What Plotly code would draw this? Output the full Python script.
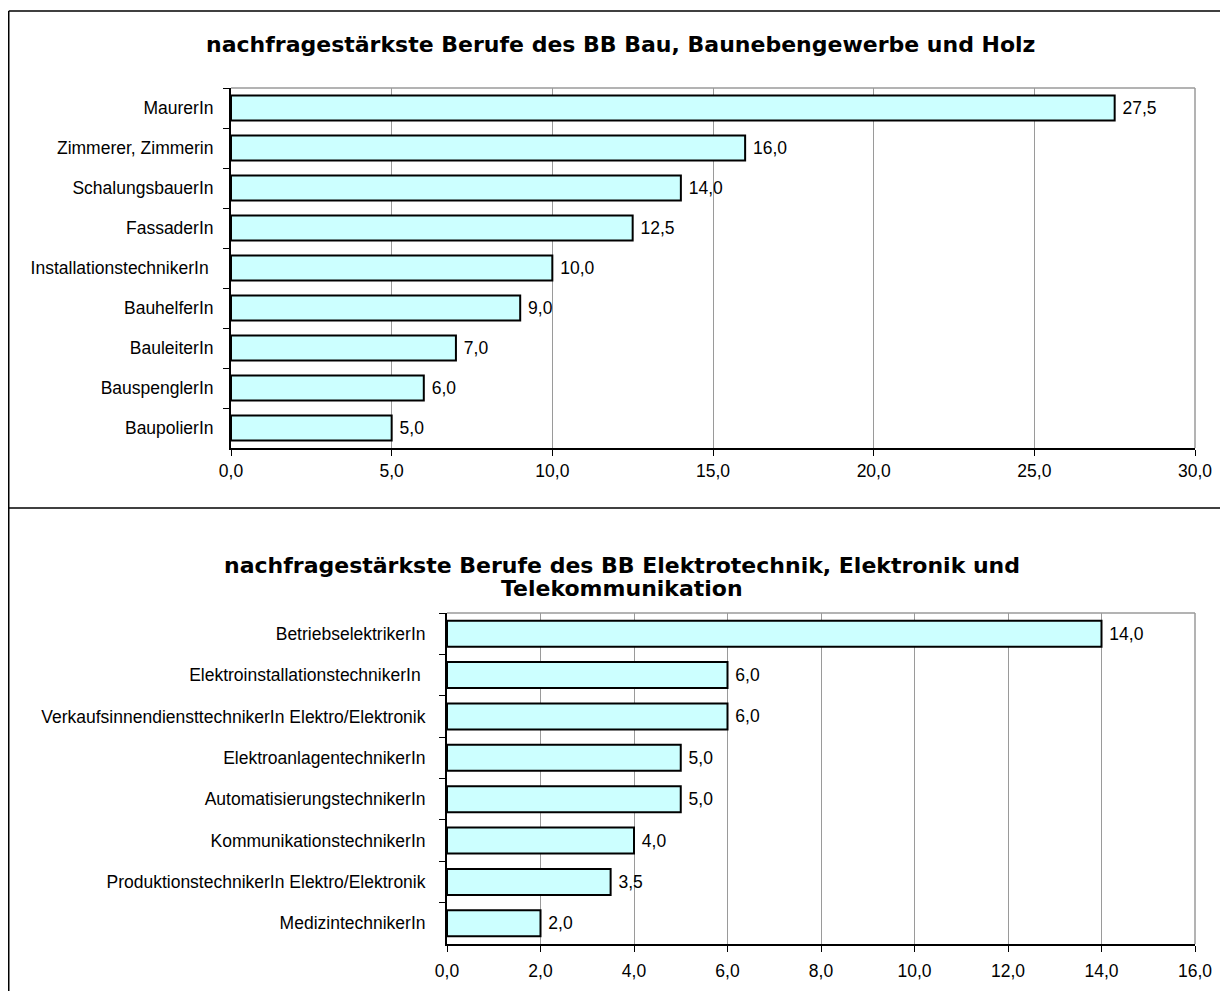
import plotly.graph_objects as go

# ---- data ----
bau_categories = ["MaurerIn", "Zimmerer, Zimmerin", "SchalungsbauerIn", "FassaderIn",
                  "InstallationstechnikerIn ", "BauhelferIn", "BauleiterIn",
                  "BauspenglerIn", "BaupolierIn"]
bau_values = [27.5, 16.0, 14.0, 12.5, 10.0, 9.0, 7.0, 6.0, 5.0]

elektro_categories = ["BetriebselektrikerIn", "ElektroinstallationstechnikerIn ",
                      "VerkaufsinnendiensttechnikerIn Elektro/Elektronik",
                      "ElektroanlagentechnikerIn", "AutomatisierungstechnikerIn",
                      "KommunikationstechnikerIn", "ProduktionstechnikerIn Elektro/Elektronik",
                      "MedizintechnikerIn"]
elektro_values = [14.0, 6.0, 6.0, 5.0, 5.0, 4.0, 3.5, 2.0]

bau_ticks = [0, 5, 10, 15, 20, 25, 30]
elektro_ticks = [0, 2, 4, 6, 8, 10, 12, 14, 16]

title_top = "nachfragestärkste Berufe des BB Bau, Baunebengewerbe und Holz"
title_bottom_1 = "nachfragestärkste Berufe des BB Elektrotechnik, Elektronik und"
title_bottom_2 = "Telekommunikation"

# ---- layout helpers ----
W, H = 1212, 983
OX, OY = 8, 8


def px(x):
    return (x - OX) / W


def py(y):
    return 1 - (y - OY) / H


FONT = "Liberation Sans, Arial, sans-serif"
TITLE_FONT = "DejaVu Sans, sans-serif"
TICK_SIZE = 17.5
BAR_FILL = "#CCFFFF"

fig = go.Figure()

fig.add_trace(go.Bar(
    x=bau_values, y=bau_categories, orientation="h",
    marker=dict(color=BAR_FILL, line=dict(color="black", width=2)),
    texttemplate=" %{x:.1f}", textposition="outside",
    textfont=dict(size=TICK_SIZE, color="black", family=FONT),
    cliponaxis=False, xaxis="x", yaxis="y", showlegend=False,
))
fig.add_trace(go.Bar(
    x=elektro_values, y=elektro_categories, orientation="h",
    marker=dict(color=BAR_FILL, line=dict(color="black", width=2)),
    texttemplate=" %{x:.1f}", textposition="outside",
    textfont=dict(size=TICK_SIZE, color="black", family=FONT),
    cliponaxis=False, xaxis="x2", yaxis="y2", showlegend=False,
))

xcommon = dict(showgrid=True, gridcolor="#9a9a9a", gridwidth=1, zeroline=False,
               showline=True, linecolor="black", linewidth=2, ticks="outside",
               ticklen=6, tickcolor="black", tickwidth=1, tickformat=".1f",
               automargin=False,
               tickfont=dict(size=TICK_SIZE, color="black", family=FONT))
ycommon = dict(autorange="reversed", showgrid=False, zeroline=False, showline=True,
               linecolor="black", linewidth=2, ticks="outside", ticklen=6,
               tickcolor="black", tickwidth=1, tickson="boundaries",
               automargin=False,
               tickfont=dict(size=TICK_SIZE, color="black", family=FONT))

fig.update_layout(
    width=W, height=H,
    margin=dict(l=0, r=0, t=0, b=0, autoexpand=False),
    paper_bgcolor="white", plot_bgcolor="white",
    separators=", ",
    bargap=0.37,
    font=dict(family=FONT, color="black"),
    xaxis=dict(domain=[px(231), px(1195)], range=[0, 30], tickvals=bau_ticks,
               anchor="y", **xcommon),
    yaxis=dict(domain=[py(448), py(88)], anchor="x", ticklabelstandoff=12, **ycommon),
    xaxis2=dict(domain=[px(447), px(1195)], range=[0, 16], tickvals=elektro_ticks,
                anchor="y2", ticklabelstandoff=4, **xcommon),
    yaxis2=dict(domain=[py(944), py(613)], anchor="x2", ticklabelstandoff=16, **ycommon),
)

# plot area frames (gray top/right)
for xr, yr in (("x domain", "y domain"), ("x2 domain", "y2 domain")):
    fig.add_shape(type="line", xref=xr, yref=yr, x0=0, x1=1, y0=1, y1=1,
                  line=dict(color="#9a9a9a", width=1.5), layer="below")
    fig.add_shape(type="line", xref=xr, yref=yr, x0=1, x1=1, y0=0, y1=1,
                  line=dict(color="#9a9a9a", width=1.5), layer="below")

# outer chart boxes (right side lies outside the window)
box = dict(color="black", width=1.5)
fig.add_shape(type="line", xref="paper", yref="paper", x0=px(8.75), x1=1, y0=py(11), y1=py(11), line=box)
fig.add_shape(type="line", xref="paper", yref="paper", x0=px(8.75), x1=1, y0=py(508), y1=py(508), line=box)
fig.add_shape(type="line", xref="paper", yref="paper", x0=px(8.75), x1=px(8.75), y0=0, y1=py(11), line=box)

title_font = dict(size=22, family=TITLE_FONT, color="black", weight="bold")
fig.add_annotation(text=title_top, xref="paper", yref="paper", x=px(620), y=py(44),
                   showarrow=False, font=title_font, xanchor="center", yanchor="middle")
fig.add_annotation(text=title_bottom_1, xref="paper", yref="paper", x=px(622), y=py(565),
                   showarrow=False, font=title_font, xanchor="center", yanchor="middle")
fig.add_annotation(text=title_bottom_2, xref="paper", yref="paper", x=px(622), y=py(588),
                   showarrow=False, font=title_font, xanchor="center", yanchor="middle")

fig.write_html("out.html")
